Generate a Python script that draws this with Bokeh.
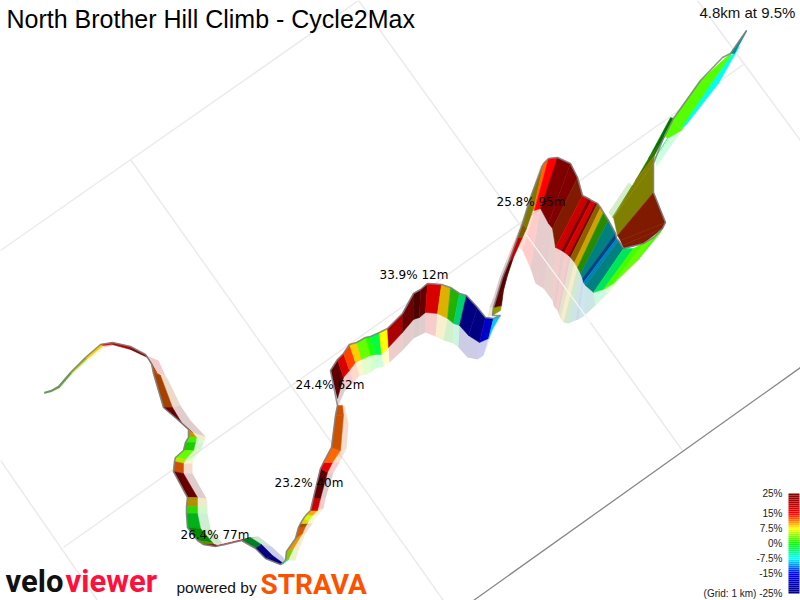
from bokeh.plotting import figure
from bokeh.models import ColumnDataSource, Range1d
from bokeh.core.properties import value
from bokeh.embed import file_html
from bokeh.resources import INLINE

# --- route slices, in the projected map units of the picture ---
top_x = [44,51,58,64,70,85,100,112,130,145,151,153,163,177,188,188,185,183,175,174,173,187,186,186,187,197,203,215,241,255,265,280,285,286,295,298,300,303,306,310,313,320,323,331,335,337,
         330,337,343,349,356,365,370,379,387,402,413,420,427,441,450,459,466,477,485,493,500,
         492,493,496,502,508,517,522,530,542,
         543,548,557,570,577,582,588,591,595,597,600,603,608,615,616,618,623,633,643,653,662,
         673,662,654,653,653,665,662,643,
         664,673,700,730, 681,712,731, 730,746, 654,667, 612,632]
top_y = [392,390,386,379,372,357,344,342,346,354,363,373,407,419,429,437,442,450,457,461,471,497,506,513,527,540,544,546,540,548,558,564,560,551,538,527,523,518,514,510,497,468,462,447,415,405,
         370,359,353,344,342,337,336,332,328,313,293,289,283,284,287,293,295,307,317,318,315,
         315,307,297,277,262,237,223,197,165,
         163,158,157,163,177,195,198,200,202,203,207,212,220,233,238,240,248,248,243,237,228,
         118,140,155,163,192,222,228,243,
         135,118,80,53, 128,82,55, 53,30, 158,138, 217,185]
base_x = [44,51,59,65,71,87,103,112,130,147,156,160,172,181,192,196,195,193,185,183,183,197,197,197,200,212,214,217,250,261,272,283,288,293,302,305,307,308,312,317,320,327,332,340,343,342,
          337,343,349,355,361,370,375,381,388,402,413,419,425,437,447,453,459,468,479,488,493,
          500,501,503,507,513,522,526,533,543,
          533,534,540,548,552,555,561,564,568,570,574,577,580,582,583,585,593,603,613,637,660,
          670,648,635,613,617,620,622,623,
          667,681,712,731, 686,718,739, 734,746, 654,667, 612,632]
base_y = [393,391,387,380,373,358,345,344,349,357,372,375,407,422,432,437,442,450,459,463,473,497,506,513,528,542,544,545,537,544,555,563,559,548,533,526,523,520,515,510,498,472,462,450,415,405,
          398,377,370,362,359,355,354,354,347,332,319,317,312,313,318,323,325,335,342,338,327,
          310,305,290,275,257,237,228,208,165,
          210,210,208,223,228,247,250,252,255,257,262,267,273,278,282,285,292,289,283,260,232,
          117,158,180,217,235,240,245,248,
          138,130,82,55, 124,83,46, 53,31, 158,138, 217,185]
fade_x = [44,51,59,65,72,88,104,113,133,158,165,168,180,190,205,204,203,201,193,192,192,206,207,207,210,222,222,225,258,271,283,285,295,298,305,310,312,313,318,323,325,333,339,346,348,344,
          337,344,353,359,363,370,375,383,389,402,413,419,425,435,443,453,458,467,477,483,488,
          487,489,493,499,505,513,518,525,540,
          518,522,530,535,543,552,553,555,557,558,560,563,568,575,578,583,595,607,620,643,662,
          670,648,635,613,617,620,622,623,
          667,681,712,731, 686,718,739, 734,746, 656,680, 608,628]
fade_y = [393,392,388,381,374,360,347,345,350,360,375,380,405,420,436,440,442,448,459,463,473,498,506,513,528,543,544,545,536,546,557,560,560,550,533,526,523,520,514,508,498,472,462,448,423,405,
          407,391,382,375,375,372,368,366,362,350,338,335,332,336,340,343,347,357,359,355,342,
          317,307,297,277,262,242,230,210,165,
          247,250,268,283,288,300,305,308,310,313,318,322,323,320,319,316,305,293,278,253,230,
          117,158,180,217,235,240,245,248,
          138,130,82,55, 124,83,46, 53,31, 166,132, 212,182]
# gradient (%) of the slice that starts at each row; None = no slice to the next row
grade = [2,2,3,3,6,9,15,18,22,17,12,12,25,25,9,2,1,3,6,12,25,9,1.5,-1,0,5,25,20,-2,-25,-25,-4,5,10,12,11,8,6,10,16,25,15,12,12,12,None,
         25,16,13,9,3,1,-2,7.5,17,25,25,25,15,9,1.5,-4,-25,-25,-17,-9,None,
         7,25,25,25,18,10,8,8,None,
         12,15,25,25,13.5,15,25,15,25,10,9,2,-7.5,-11,-10,-7.5,-3,2,3,2,None,
         0,3,7.5,7.5,13.5,13.5,13.5,None,
         2.5,2.5,2.5,None, -7,-7,None, -7.5,None, -3,None, 3,None]
# light on the wall at that slice (1 = lit, 0.5 = in shade)
shade = [.7,.7,.7,.7,.8,1,.9,.8,.8,.8,.75,.65,.8,.8,.75,.95,.8,1,.9,.8,.8,.7,.85,.7,.55,.55,1,1,.5,1,1,1,.8,.9,.85,.6,.9,1,1,.85,.75,.9,1,.8,.8,1,
         .75,.9,1,1,1,1,1,1,.75,.85,.6,.8,.85,.87,.7,.82,1,1,.87,1,1,
         .6,.7,.7,.7,.9,.5,.5,.5,1,
         1,1,1,1,.5,.8,1,.85,1,.55,.8,.55,.5,.5,.75,.5,.9,1,1,1,1,
         .45,.45,.5,.5,.5,.5,.5,1,
         1,1,1,1, 1,1,1, .55,1, 1,1, .6,1]
# grey outline of the road: first part follows top_*, then the rest
road_main_rows = 93
road_tail_x = [623,643,653,662,665,653,653,662,673,700,722,730,746]
road_tail_y = [248,243,237,228,222,192,163,140,118,80,57,53,30]

# --- km grid ---
grid_x0 = [0,63,358,130,0,697]
grid_y0 = [250,547,0,159,460,0]
grid_x1 = [358,743,682,443,97,800]
grid_y1 = [0,64,450,600,600,140]
axis_x = [473,800]
axis_y = [600,367]
# the stretch of a grid line that shows through the faded reflection
through_x = [520,590]
through_y = [226,322]

# --- labels ---
title_text = "North Brother Hill Climb - Cycle2Max"
climb_labels = ["25.8% 95m","33.9% 12m","24.4% 62m","23.2% 40m","26.4% 77m"]
climb_x = [496,379,295,274,180]
climb_y = [201.5,274.5,384.5,482.5,534.5]
summary_text = "4.8km at 9.5%"
scale_labels = ["25%","15%","7.5%","0%","-7.5%","-15%","(Grid: 1 km) -25%"]
scale_values = [25,15,7.5,0,-7.5,-15,-25]

# --- gradient scale ---
stop_grades = [-25,-15,-7.5,0,7.5,15,25]
stop_rgb = [(0,0,128),(0,0,255),(0,255,255),(0,255,0),(255,255,0),(255,0,0),(128,0,0)]

def grade_colour(g, s=1.0):
    g = max(-25, min(25, g))
    for k in range(len(stop_grades) - 1):
        if g <= stop_grades[k + 1]:
            t = (g - stop_grades[k]) / (stop_grades[k + 1] - stop_grades[k])
            a, b = stop_rgb[k], stop_rgb[k + 1]
            return "#%02x%02x%02x" % tuple(int(round((a[c] + (b[c] - a[c]) * t) * s)) for c in range(3))
    return "#800000"

wall_xs, wall_ys, fade_xs, fade_ys, cols = [], [], [], [], []
for i, g in enumerate(grade):
    if g is None:
        continue
    wall_xs.append([top_x[i], top_x[i+1], base_x[i+1], base_x[i]])
    wall_ys.append([top_y[i], top_y[i+1], base_y[i+1], base_y[i]])
    fade_xs.append([base_x[i], base_x[i+1], fade_x[i+1], fade_x[i]])
    fade_ys.append([base_y[i], base_y[i+1], fade_y[i+1], fade_y[i]])
    cols.append(grade_colour(g, shade[i]))

p = figure(width=800, height=600, output_backend="svg", toolbar_location=None,
           x_range=Range1d(0, 800), y_range=Range1d(600, 0), min_border=0)
p.axis.visible = False
p.grid.visible = False
p.outline_line_color = None
p.background_fill_color = "white"
p.border_fill_color = "white"

p.segment(grid_x0, grid_y0, grid_x1, grid_y1, line_color="#ebebeb", line_width=1.5)
p.line(axis_x, axis_y, line_color="#888888", line_width=1.3)

p.patches("x", "y", source=ColumnDataSource(dict(x=fade_xs, y=fade_ys, c=cols)),
          fill_color="c", fill_alpha=0.2, line_color=None)
p.line(through_x, through_y, line_color="white", line_width=1.5, line_alpha=0.8)
p.patches("x", "y", source=ColumnDataSource(dict(x=wall_xs, y=wall_ys, c=cols)),
          fill_color="c", line_color="c", line_width=0.5)

p.line(top_x[:road_main_rows], top_y[:road_main_rows], line_color="#808080", line_width=1.6, line_alpha=0.85)
p.line(road_tail_x, road_tail_y, line_color="#808080", line_width=1.6, line_alpha=0.85)

SANS = value("Liberation Sans")
HEAVY = value("Roboto")

# gradient scale bar
bar_grades = list(range(-25, 25))
p.quad(left=788, right=799,
       bottom=[543 - 2 * g for g in bar_grades], top=[543 - 2 * (g + 1) for g in bar_grades],
       fill_color=[grade_colour(g + 0.5) for g in bar_grades], line_color=None)
p.text(x=[782] * len(scale_labels), y=[543 - 2 * v for v in scale_values], text=scale_labels,
       text_font=SANS, text_font_size="10px", text_color="#222222",
       text_align="right", text_baseline="middle")

p.text(x=[6], y=[18], text=[title_text], text_font=SANS, text_font_size="25px",
       text_color="black", text_baseline="middle")
p.text(x=[699], y=[12], text=[summary_text], text_font=SANS, text_font_size="15px",
       text_color="#111111", text_baseline="middle")
p.text(x=climb_x, y=climb_y, text=climb_labels, text_font=value("DejaVu Sans"), text_font_size="12px",
       text_color="black", text_baseline="middle")

# footer
p.text(x=[5], y=[581], text=["velo"], text_font=HEAVY, text_font_style="bold",
       text_font_size="31px", text_color="#111111", text_baseline="middle")
p.text(x=[65], y=[581], text=["viewer"], text_font=HEAVY, text_font_style="bold",
       text_font_size="31px", text_color="#ff0f3c", text_baseline="middle")
p.text(x=[176], y=[587], text=["powered by"], text_font=SANS, text_font_size="15.5px",
       text_color="#111111", text_baseline="middle")
p.text(x=[260], y=[584], text=["STRAVA"], text_font=HEAVY, text_font_style="bold",
       text_font_size="28px", text_color="#fc5200", text_baseline="middle")

open("out.html", "w").write(file_html(p, INLINE))
